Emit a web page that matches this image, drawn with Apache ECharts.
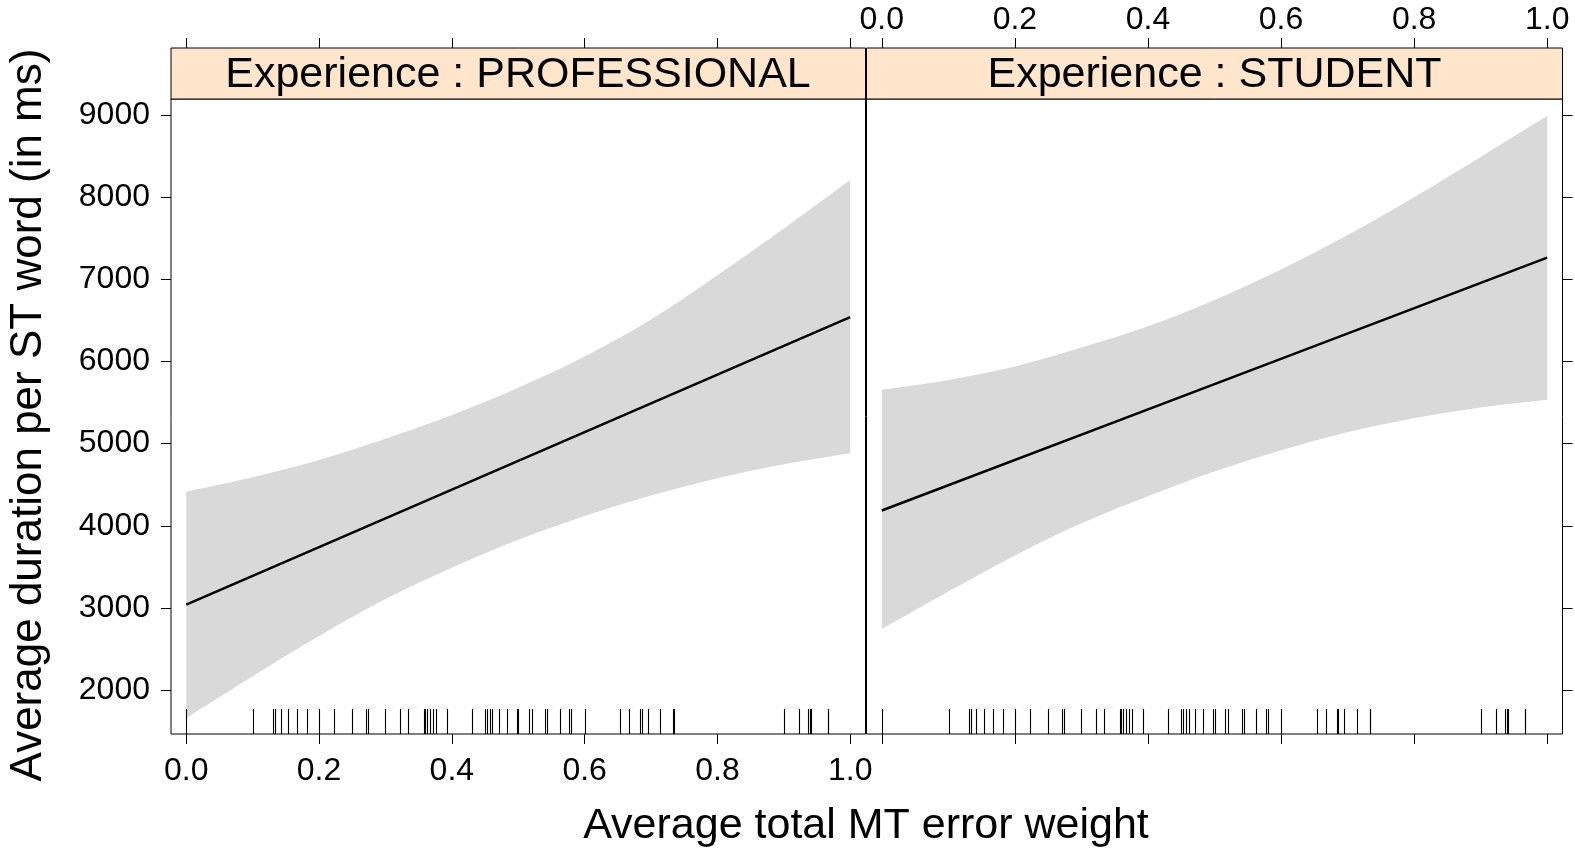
<!DOCTYPE html>
<html>
<head>
<meta charset="utf-8">
<script src="https://cdn.jsdelivr.net/npm/echarts@6/dist/echarts.min.js"></script>
<style>
  html, body { margin: 0; padding: 0; background: #fff; }
  #chart { width: 1575px; height: 851px; }
</style>
</head>
<body>
<div id="chart"></div>
<script>
// effect of MT error weight on duration, one panel per experience level
const panels = ['Experience : PROFESSIONAL', 'Experience : STUDENT'];

// confidence band, read at these x positions
const bandX = [0, 0.1, 0.2, 0.3, 0.4, 0.5, 0.6, 0.7, 0.8, 0.9, 1.0];
const profUpper = [4415, 4590, 4800, 5060, 5350, 5680, 6060, 6510, 7050, 7620, 8210];
const profLower = [1660, 2170, 2660, 3110, 3490, 3830, 4120, 4370, 4580, 4750, 4884];
const studUpper = [5655, 5775, 5940, 6170, 6430, 6750, 7120, 7540, 8000, 8490, 8990];
const studLower = [2743, 3200, 3640, 4030, 4360, 4660, 4920, 5140, 5310, 5440, 5533];

// fitted line
const fitX = [0, 0.5, 1.0];
const profFit = [3040, 4790, 6540];
const studFit = [4186, 5725, 7265];

// rug: observed values of the predictor (same in both panels)
const rugX = [0, 0.101, 0.131, 0.134, 0.142, 0.153, 0.167, 0.182, 0.2, 0.222, 0.25,
  0.271, 0.274, 0.299, 0.322, 0.334, 0.358, 0.360, 0.362, 0.367, 0.371, 0.376, 0.392,
  0.43, 0.45, 0.453, 0.457, 0.461, 0.471, 0.483, 0.498, 0.5, 0.516, 0.521, 0.541,
  0.544, 0.563, 0.577, 0.58, 0.6, 0.654, 0.667, 0.684, 0.686, 0.695, 0.714, 0.733,
  0.734, 0.901, 0.923, 0.937, 0.939, 0.941, 0.966, 0.967];

const xTicks = [0, 0.2, 0.4, 0.6, 0.8, 1.0];
const yTicks = [2000, 3000, 4000, 5000, 6000, 7000, 8000, 9000];

const xMin = -0.023, xMax = 1.023;
const yMin = 1466, yMax = 9195;

const FONT = "'Liberation Sans', Arial, sans-serif";
const BAND = '#d9d9d9';

const pairs = (xs, ys) => xs.map((x, i) => [x, ys[i]]);

function xAxisOf(gridIndex, position, withLabels, margin) {
  return {
    type: 'value', gridIndex: gridIndex, position: position,
    min: xMin, max: xMax,
    axisLine: { show: false, onZero: false },
    splitLine: { show: false },
    axisTick: { show: true, length: 10, customValues: xTicks, lineStyle: { color: '#000', width: 1 } },
    axisLabel: {
      show: withLabels, customValues: xTicks, margin: margin,
      color: '#000', fontSize: 32, fontFamily: FONT,
      formatter: v => v.toFixed(1)
    }
  };
}

function yAxisOf(gridIndex, position, withLabels) {
  return {
    type: 'value', gridIndex: gridIndex, position: position,
    min: yMin, max: yMax,
    axisLine: { show: false, onZero: false },
    splitLine: { show: false },
    axisTick: { show: true, length: 10, customValues: yTicks, lineStyle: { color: '#000', width: 1 } },
    axisLabel: {
      show: withLabels, customValues: yTicks, margin: 21,
      color: '#000', fontSize: 32, fontFamily: FONT,
      formatter: v => String(v)
    }
  };
}

// smooth path through pixel points (catmull-rom as cubic bezier)
function curveTo(pts) {
  let d = '';
  for (let i = 0; i < pts.length - 1; i++) {
    const p0 = pts[Math.max(i - 1, 0)], p1 = pts[i], p2 = pts[i + 1], p3 = pts[Math.min(i + 2, pts.length - 1)];
    const c1 = [p1[0] + (p2[0] - p0[0]) / 6, p1[1] + (p2[1] - p0[1]) / 6];
    const c2 = [p2[0] - (p3[0] - p1[0]) / 6, p2[1] - (p3[1] - p1[1]) / 6];
    d += ' C' + c1[0] + ',' + c1[1] + ' ' + c2[0] + ',' + c2[1] + ' ' + p2[0] + ',' + p2[1];
  }
  return d;
}

// band: upper edge left to right, lower edge back
function bandSeries(axis, up, lo) {
  return {
    type: 'custom', xAxisIndex: axis, yAxisIndex: axis, silent: true, z: 1,
    data: bandX.map((x, i) => [x, lo[i], up[i]]),
    renderItem: (params, api) => {
      if (params.dataIndex !== 0) return null;
      const n = params.dataInsideLength;
      const top = [], bot = [];
      for (let i = 0; i < n; i++) top.push(api.coord([api.value(0, i), api.value(2, i)]));
      for (let i = n - 1; i >= 0; i--) bot.push(api.coord([api.value(0, i), api.value(1, i)]));
      const d = 'M' + top[0][0] + ',' + top[0][1] + curveTo(top) +
        ' L' + bot[0][0] + ',' + bot[0][1] + curveTo(bot) + ' Z';
      return { type: 'path', shape: { pathData: d }, style: { fill: BAND } };
    }
  };
}

function fitSeries(axis, fit) {
  return {
    type: 'line', xAxisIndex: axis, yAxisIndex: axis,
    data: pairs(fitX, fit), symbol: 'none', silent: true,
    lineStyle: { color: '#000', width: 2.5 }, z: 3
  };
}

function rugSeries(axis) {
  return {
    type: 'custom', xAxisIndex: axis, yAxisIndex: axis, silent: true, z: 4,
    data: rugX.map(x => [x, yMin]),
    renderItem: (params, api) => {
      const p = api.coord([api.value(0), api.value(1)]);
      const x = Math.round(p[0]) + 0.5;
      return {
        type: 'line',
        shape: { x1: x, y1: p[1], x2: x, y2: p[1] - 25 },
        style: { stroke: '#000', lineWidth: 1.1 }
      };
    }
  };
}

const stripText = (x, text) => ({
  type: 'text', x: x, y: 75, z: 10,
  style: { text: text, fill: '#000', font: '43px ' + FONT, textAlign: 'center', textVerticalAlign: 'middle' }
});

const option = {
  animation: false,
  backgroundColor: '#fff',
  grid: [
    { left: 171, top: 99, width: 694.5, height: 635, show: true, borderColor: '#000', borderWidth: 1, backgroundColor: '#fff' },
    { left: 866.5, top: 99, width: 696, height: 635, show: true, borderColor: '#000', borderWidth: 1, backgroundColor: '#fff' },
    { left: 171, top: 48, width: 694.5, height: 51, show: true, borderColor: '#000', borderWidth: 1, backgroundColor: '#ffe5cc' },
    { left: 866.5, top: 48, width: 696, height: 51, show: true, borderColor: '#000', borderWidth: 1, backgroundColor: '#ffe5cc' }
  ],
  xAxis: [
    xAxisOf(0, 'bottom', true, 21),
    xAxisOf(1, 'bottom', false, 21),
    xAxisOf(2, 'top', false, 12),
    xAxisOf(3, 'top', true, 12)
  ],
  yAxis: [
    yAxisOf(0, 'left', true),
    yAxisOf(1, 'right', false),
    { type: 'value', gridIndex: 2, show: false, min: 0, max: 1 },
    { type: 'value', gridIndex: 3, show: false, min: 0, max: 1 }
  ],
  series: [
    bandSeries(0, profUpper, profLower),
    bandSeries(1, studUpper, studLower),
    fitSeries(0, profFit),
    fitSeries(1, studFit),
    rugSeries(0),
    rugSeries(1)
  ],
  graphic: [
    stripText(518, panels[0]),
    stripText(1214.5, panels[1]),
    {
      type: 'text', x: 866, y: 826,
      style: { text: 'Average total MT error weight', fill: '#000', font: '43px ' + FONT, textAlign: 'center', textVerticalAlign: 'middle' }
    },
    {
      type: 'text', x: 29, y: 415, rotation: Math.PI / 2,
      style: { text: 'Average duration per ST word (in ms)', fill: '#000', font: '44px ' + FONT, textAlign: 'center', textVerticalAlign: 'middle' }
    }
  ]
};

const chart = echarts.init(document.getElementById('chart'));
chart.setOption(option);
</script>
</body>
</html>
